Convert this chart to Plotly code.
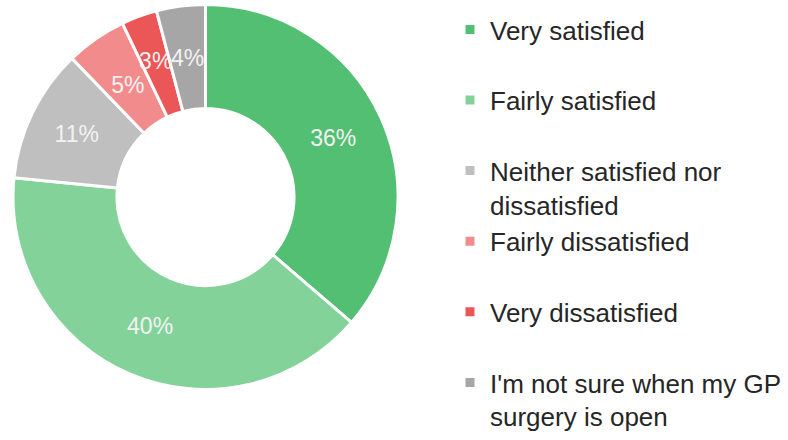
import plotly.graph_objects as go

categories = ["Very satisfied", "Fairly satisfied", "Neither satisfied nor<br>dissatisfied",
              "Fairly dissatisfied", "Very dissatisfied", "I'm not sure when my GP<br>surgery is open"]
values = [36.3, 40.3, 11.2, 5.1, 3.0, 4.1]
colors = ["#52BF72", "#83D29A", "#BFBFBF", "#F28C8C", "#EB5757", "#A6A6A6"]
small_slice = [False, False, False, True, True, True]

legend_labels = [c if "<br>" in c else c + "<br> " for c in categories]
W, H = 788, 440
cx, cy = 205.5, 197
R_outer, R_small_text = 192.5, 158

label_font = dict(family="Liberation Sans, Arial, sans-serif", size=23, color="#F2F2F2")

fig = go.Figure()
fig.add_trace(go.Pie(
    labels=legend_labels,
    values=values,
    hole=0.46,
    sort=False,
    direction="clockwise",
    rotation=0,
    marker=dict(colors=colors, line=dict(color="white", width=3)),
    texttemplate=["" if s else "%{percent:.0%}" for s in small_slice],
    textposition="inside",
    insidetextorientation="horizontal",
    textfont=label_font,
    domain=dict(x=[(cx - R_outer) / W, (cx + R_outer) / W],
                y=[1 - (cy + R_outer) / H, 1 - (cy - R_outer) / H]),
))
# transparent overlay so the labels of the thin slices sit mid-ring
fig.add_trace(go.Pie(
    labels=legend_labels,
    values=values,
    sort=False,
    direction="clockwise",
    rotation=0,
    showlegend=False,
    hoverinfo="skip",
    marker=dict(colors=["rgba(0,0,0,0)"] * len(values), line=dict(width=0)),
    texttemplate=["%{percent:.0%}" if s else "" for s in small_slice],
    textposition="inside",
    insidetextorientation="horizontal",
    textfont=label_font,
    domain=dict(x=[(cx - R_small_text) / W, (cx + R_small_text) / W],
                y=[1 - (cy + R_small_text) / H, 1 - (cy - R_small_text) / H]),
))

fig.update_layout(
    width=W, height=H,
    margin=dict(l=0, r=0, t=0, b=0),
    paper_bgcolor="white", plot_bgcolor="white",
    uniformtext=dict(minsize=23, mode="show"),
    showlegend=True,
    legend=dict(
        x=450 / W, y=1 - 21 / H, xanchor="left", yanchor="top",
        valign="top",
        font=dict(family="Liberation Sans, Arial, sans-serif", size=26, color="#262626"),
        itemwidth=30,
    ),
)

fig.write_html("out.html", config={"displayModeBar": False},
               post_script="document.body.style.margin='0';")
